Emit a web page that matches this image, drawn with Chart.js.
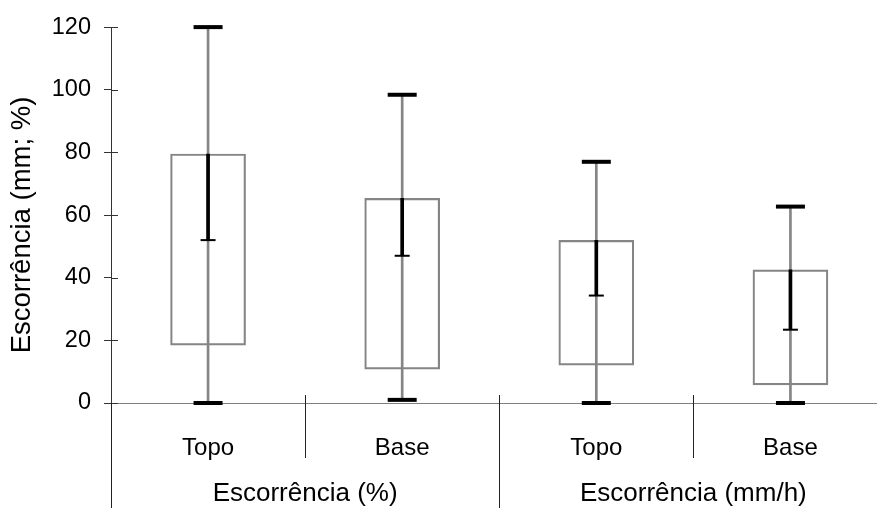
<!DOCTYPE html>
<html><head><meta charset="utf-8">
<script src="https://cdn.jsdelivr.net/npm/chart.js@4.4.1/dist/chart.umd.min.js"></script>
<style>
html,body{margin:0;padding:0;background:#fff;overflow:hidden;width:877px;height:508px}
#wrap{width:877px;height:508px;overflow:hidden;position:relative}
canvas{display:block}
</style></head>
<body><div id="wrap"><canvas id="c" width="906" height="508" style="width:906px;height:508px"></canvas></div>
<script>
const categories = ['Topo', 'Base', 'Topo', 'Base'];
const groupLabels = ['Escorrência (%)', 'Escorrência (mm/h)'];
const groupSizes = [2, 2];
const minVals  = [0, 1, 0, 0];
const q1Vals   = [18.5, 10.8, 12.1, 5.8];
const meanVals = [52, 47, 34.3, 23.4];
const q3Vals   = [79.5, 65.3, 51.9, 42.5];
const maxVals  = [120, 98.4, 77, 62.7];
const yTitle = 'Escorrência (mm; %)';
const yMin = 0, yMax = 120, yStep = 20;

const FONT = "'Liberation Sans', Arial, sans-serif";
Chart.defaults.font.family = FONT;
Chart.defaults.color = '#000';

const boxData = categories.map((c, i) => [q1Vals[i], q3Vals[i]]);
const whiskerData = categories.map((c, i) => [minVals[i], maxVals[i]]);
const meanBarData = categories.map((c, i) => [meanVals[i], q3Vals[i]]);

const decor = {
  id: 'decor',
  afterDraw(chart) {
    const ctx = chart.ctx;
    const ca = chart.chartArea;
    const xs = chart.scales.x, ys = chart.scales.y;
    ctx.save();
    ctx.strokeStyle = '#333';
    ctx.lineWidth = 1;
    ys.ticks.forEach(t => {
      const y = Math.round(ys.getPixelForValue(t.value)) + 0.5;
      ctx.beginPath(); ctx.moveTo(ca.left, y); ctx.lineTo(ca.left + 7, y); ctx.stroke();
    });
    const w = xs.getPixelForValue(1) - xs.getPixelForValue(0);
    const x0 = xs.getPixelForValue(0) - w / 2;
    const groupEdges = [0];
    groupSizes.forEach(s => groupEdges.push(groupEdges[groupEdges.length - 1] + s));
    ctx.strokeStyle = '#222';
    for (let k = 0; k <= categories.length; k++) {
      const x = Math.round(x0 + k * w) + 0.5;
      const isGroup = groupEdges.includes(k);
      const yTop = k === 0 ? ca.bottom : ca.bottom - 8;
      const yBot = isGroup ? chart.height : 458;
      ctx.beginPath(); ctx.moveTo(x, yTop); ctx.lineTo(x, yBot); ctx.stroke();
    }
    ctx.fillStyle = '#000';
    ctx.font = '26px ' + FONT;
    ctx.textAlign = 'center';
    ctx.textBaseline = 'alphabetic';
    groupLabels.forEach((g, i) => {
      const cx = x0 + (groupEdges[i] + groupEdges[i + 1]) / 2 * w;
      ctx.fillText(g, cx, 501);
    });
    ctx.translate(30, 225);
    ctx.rotate(-Math.PI / 2);
    ctx.font = '27.5px ' + FONT;
    ctx.textAlign = 'center';
    ctx.textBaseline = 'alphabetic';
    ctx.fillText(yTitle, 0, 0);
    ctx.restore();
  }
};

new Chart(document.getElementById('c'), {
  type: 'bar',
  data: {
    labels: categories,
    datasets: [
      { type: 'bar', data: boxData, backgroundColor: 'rgba(255,255,255,0)', borderColor: '#858585', borderWidth: 1.5, borderSkipped: false, barThickness: 75, grouped: false, order: 5 },
      { type: 'bar', data: whiskerData, backgroundColor: '#858585', borderWidth: 0, barThickness: 2, grouped: false, order: 4 },
      { type: 'bar', data: meanBarData, backgroundColor: '#000', borderWidth: 0, barThickness: 3, grouped: false, order: 3 },
      { type: 'line', data: maxVals, showLine: false, pointStyle: 'line', pointRadius: 14.5, pointBorderWidth: 4, pointBorderColor: '#000', borderColor: '#000', clip: false, order: 2 },
      { type: 'line', data: minVals, showLine: false, pointStyle: 'line', pointRadius: 14.5, pointBorderWidth: 4, pointBorderColor: '#000', borderColor: '#000', clip: false, order: 2 },
      { type: 'line', data: meanVals, showLine: false, pointStyle: 'line', pointRadius: 7.5, pointBorderWidth: 2, pointBorderColor: '#000', borderColor: '#000', clip: false, order: 1 }
    ]
  },
  options: {
    responsive: false,
    animation: false,
    events: [],
    layout: { padding: { top: 24, left: 0, right: 0, bottom: 0 } },
    plugins: { legend: { display: false }, tooltip: { enabled: false } },
    scales: {
      x: {
        type: 'category',
        offset: true,
        grid: { display: false },
        border: { display: true, color: '#808080', width: 1 },
        ticks: { font: { size: 24 }, color: '#000', padding: 23, maxRotation: 0 },
        afterFit(s) { s.height = 105; }
      },
      y: {
        min: yMin, max: yMax,
        grid: { drawOnChartArea: false, drawTicks: true, tickLength: 7, color: '#333' },
        border: { display: true, color: '#333', width: 1 },
        ticks: { stepSize: yStep, font: { size: 23.5 }, color: '#000', padding: 13 },
        afterFit(s) { s.width = 111; }
      }
    }
  },
  plugins: [decor]
});
</script>
</body></html>
